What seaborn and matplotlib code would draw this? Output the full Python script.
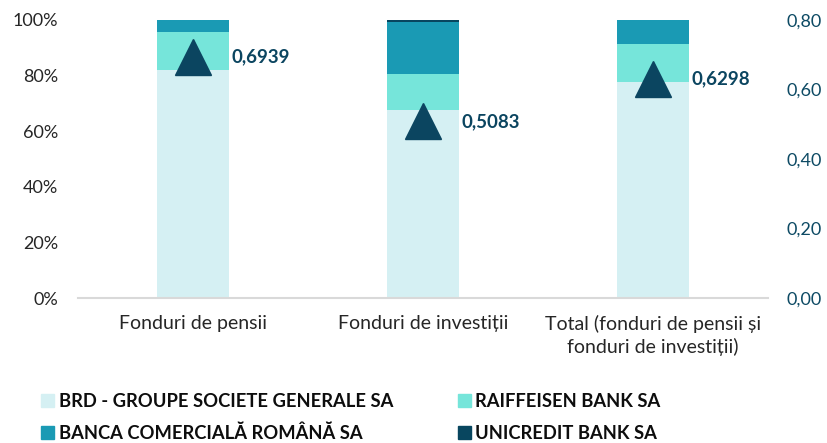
import matplotlib
matplotlib.use("Agg")
import matplotlib.pyplot as plt
import seaborn as sns
import pandas as pd
import numpy as np
from matplotlib.patches import Patch
from matplotlib.ticker import FuncFormatter

categories = ["Fonduri de pensii", "Fonduri de investiții",
              "Total (fonduri de pensii și\nfonduri de investiții)"]
banks = ["BRD - GROUPE SOCIETE GENERALE SA", "RAIFFEISEN BANK SA",
         "BANCA COMERCIALĂ ROMÂNĂ SA", "UNICREDIT BANK SA"]
brd = [82.0, 67.6, 77.7]
raiffeisen = [13.7, 13.0, 13.7]
bcr = [4.2, 18.7, 8.5]
unicredit = [0.1, 0.7, 0.1]
indicator = [0.6939, 0.5083, 0.6298]
indicator_labels = ["0,6939", "0,5083", "0,6298"]

colors = ["#d5f0f3", "#76e5da", "#1a9ab4", "#08465f"]
marker_color = "#0b4560"

sns.set_theme(style="white")
plt.rcParams['font.family'] = ['Lato', 'DejaVu Sans']

fig = plt.figure(figsize=(8.28, 4.43), dpi=100)
ax = fig.add_axes([0.094, 0.327, 0.8335, 0.628])

series = [brd, raiffeisen, bcr, unicredit]
cum = np.cumsum(np.array(series), axis=0)
df = pd.DataFrame({"cat": categories})
for i in range(3, -1, -1):
    df["v"] = cum[i]
    sns.barplot(data=df, x="cat", y="v", color=colors[i], saturation=1,
                width=0.313, ax=ax, linewidth=0)

ax.set_ylim(0, 100)
ax.set_xlim(-0.5, 2.5)
ax.set_yticks([0, 20, 40, 60, 80, 100])
ax.yaxis.set_major_formatter(FuncFormatter(lambda v, p: f"{int(v)}%"))
ax.set_xlabel("")
ax.set_ylabel("")
for s in ["top", "right", "left"]:
    ax.spines[s].set_visible(False)
ax.spines["bottom"].set_color("#d9d9d9")
ax.spines["bottom"].set_linewidth(1.5)
ax.tick_params(axis="y", length=0, pad=14, labelsize=13, labelcolor="#262626")
ax.tick_params(axis="x", length=0, pad=12, labelsize=14, labelcolor="#262626")
for t in ax.get_xticklabels():
    t.set_linespacing(1.35)

ax2 = ax.twinx()
ax2.plot(range(3), indicator, linestyle="none", marker="^", markersize=26,
         color=marker_color)
ax2.set_ylim(0, 0.8)
ax2.set_yticks([0, 0.2, 0.4, 0.6, 0.8])
ax2.yaxis.set_major_formatter(FuncFormatter(lambda v, p: f"{v:.2f}".replace(".", ",")))
ax2.tick_params(axis="y", length=0, pad=13, labelsize=13, labelcolor="#0d4a64")
for s in ax2.spines.values():
    s.set_visible(False)
ax2.grid(False)
ax.grid(False)
for i, (v, lab) in enumerate(zip(indicator, indicator_labels)):
    ax2.annotate(lab, (i, v), xytext=(28, 0), textcoords="offset points",
                 ha="left", va="center", fontsize=13.5, fontweight="bold",
                 color=marker_color)

handles = [Patch(color=colors[0]), Patch(color=colors[2]),
           Patch(color=colors[1]), Patch(color=colors[3])]
labels = [banks[0], banks[2], banks[1], banks[3]]
fig.legend(handles, labels, loc="upper left", bbox_to_anchor=(0.05, 0.113),
           ncol=2, frameon=False, handlelength=0.71, handleheight=0.71,
           handletextpad=0.25, columnspacing=3.5, labelspacing=0.8,
           prop={"weight": "bold", "size": 13.2}, borderaxespad=0,
           borderpad=0, labelcolor="#0d0d0d")

fig.savefig("out.png", dpi=100)
